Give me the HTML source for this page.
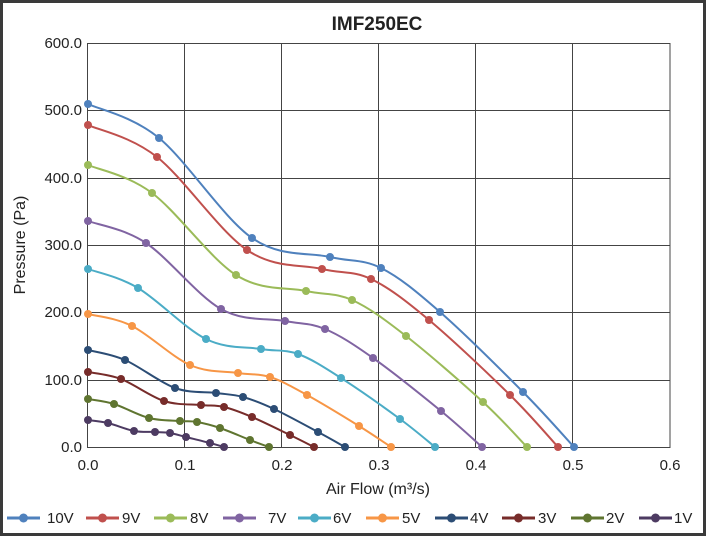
<!DOCTYPE html><html><head><style>body{margin:0}svg{display:block}text{font-family:"Liberation Sans",sans-serif;fill:#222}</style></head><body>
<svg id="s" width="706" height="536" xmlns="http://www.w3.org/2000/svg">
<rect x="1.5" y="1.5" width="703" height="533" fill="#fff" stroke="#3a3a3a" stroke-width="3"/>
<text x="377" y="30" font-size="19" font-weight="bold" text-anchor="middle">IMF250EC</text>
<g stroke="#444" stroke-width="1" fill="none">
<rect x="87.5" y="43.5" width="582.5" height="404"/>
<path d="M184.5 43.5V447.5M281.5 43.5V447.5M378.5 43.5V447.5M475.5 43.5V447.5M572.5 43.5V447.5M87.5 110.5H670M87.5 178.5H670M87.5 245.5H670M87.5 312.5H670M87.5 380.5H670"/>
</g>
<g font-size="15" text-anchor="end">
<text x="82" y="48">600.0</text><text x="82" y="115">500.0</text><text x="82" y="183">400.0</text><text x="82" y="250">300.0</text><text x="82" y="317">200.0</text><text x="82" y="385">100.0</text><text x="82" y="452">0.0</text></g>
<g font-size="15" text-anchor="middle">
<text x="88" y="470">0.0</text><text x="185" y="470">0.1</text><text x="282" y="470">0.2</text><text x="379" y="470">0.3</text><text x="476" y="470">0.4</text><text x="573" y="470">0.5</text><text x="670" y="470">0.6</text>
<text x="378" y="494" font-size="16">Air Flow (m³/s)</text>
<text transform="translate(25,245) rotate(-90)" font-size="16">Pressure (Pa)</text></g>
<g id="series"></g><g id="leg" font-size="15"></g>
</svg>
<script>
var C=["#4f81bd","#c0504d","#9bbb59","#8064a2","#4bacc6","#f79646","#2c4d75","#772c2a","#5f7530","#4d3b62"];
var N=["10V","9V","8V","7V","6V","5V","4V","3V","2V","1V"];
var D=[
[[88,104],[159,138],[252,238],[330,257],[381,268],[440,312],[523,392],[574,447]],
[[88,125],[157,157],[247,250],[322,269],[371,279],[429,320],[510,395],[558,447]],
[[88,165],[152,193],[236,275],[306,291],[352,300],[406,336],[483,402],[527,447]],
[[88,221],[146,243],[221,309],[285,321],[325,329],[373,358],[441,411],[482,447]],
[[88,269],[138,288],[206,339],[261,349],[298,354],[341,378],[400,419],[435,447]],
[[88,314],[132,326],[190,365],[238,373],[270,377],[307,395],[359,426],[391,447]],
[[88,350],[125,360],[175,388],[216,393],[243,397],[274,409],[318,432],[345,447]],
[[88,372],[121,379],[164,401],[201,405],[224,407],[252,417],[290,435],[314,447]],
[[88,399],[114,404],[149,418],[180,421],[197,422],[220,428],[250,440],[269,447]],
[[88,420],[108,423],[134,431],[155,432],[170,433],[186,437],[210,443],[224,447]]];
var h="";
for(var i=D.length-1;i>=0;i--){var p=D[i],d="M"+p[0];
for(var k=0;k<p.length-1;k++){var a=p[k-1]||p[k],b=p[k],c=p[k+1],e=p[k+2]||c;
d+="C"+(b[0]+(c[0]-a[0])/6)+","+(b[1]+(c[1]-a[1])/6)+" "+(c[0]-(e[0]-b[0])/6)+","+(c[1]-(e[1]-b[1])/6)+" "+c;}
h+='<path d="'+d+'" fill="none" stroke="'+C[i]+'" stroke-width="2"/>';
p.forEach(function(q){h+='<circle cx="'+q[0]+'" cy="'+q[1]+'" r="4" fill="'+C[i]+'"/>';});}
document.getElementById("series").innerHTML=h;
var lx=[7,86,154,223,298,366,435,502,571,639],tx=[47,122,190,268,333,402,470,538,606,674],g="";
for(var i=0;i<10;i++){var x=lx[i];
g+='<line x1="'+x+'" y1="518" x2="'+(x+33)+'" y2="518" stroke="'+C[i]+'" stroke-width="3"/><circle cx="'+(x+16.5)+'" cy="518" r="4.5" fill="'+C[i]+'"/>';
g+='<text x="'+tx[i]+'" y="523">'+N[i]+'</text>';}
document.getElementById("leg").innerHTML=g;
</script></body></html>
